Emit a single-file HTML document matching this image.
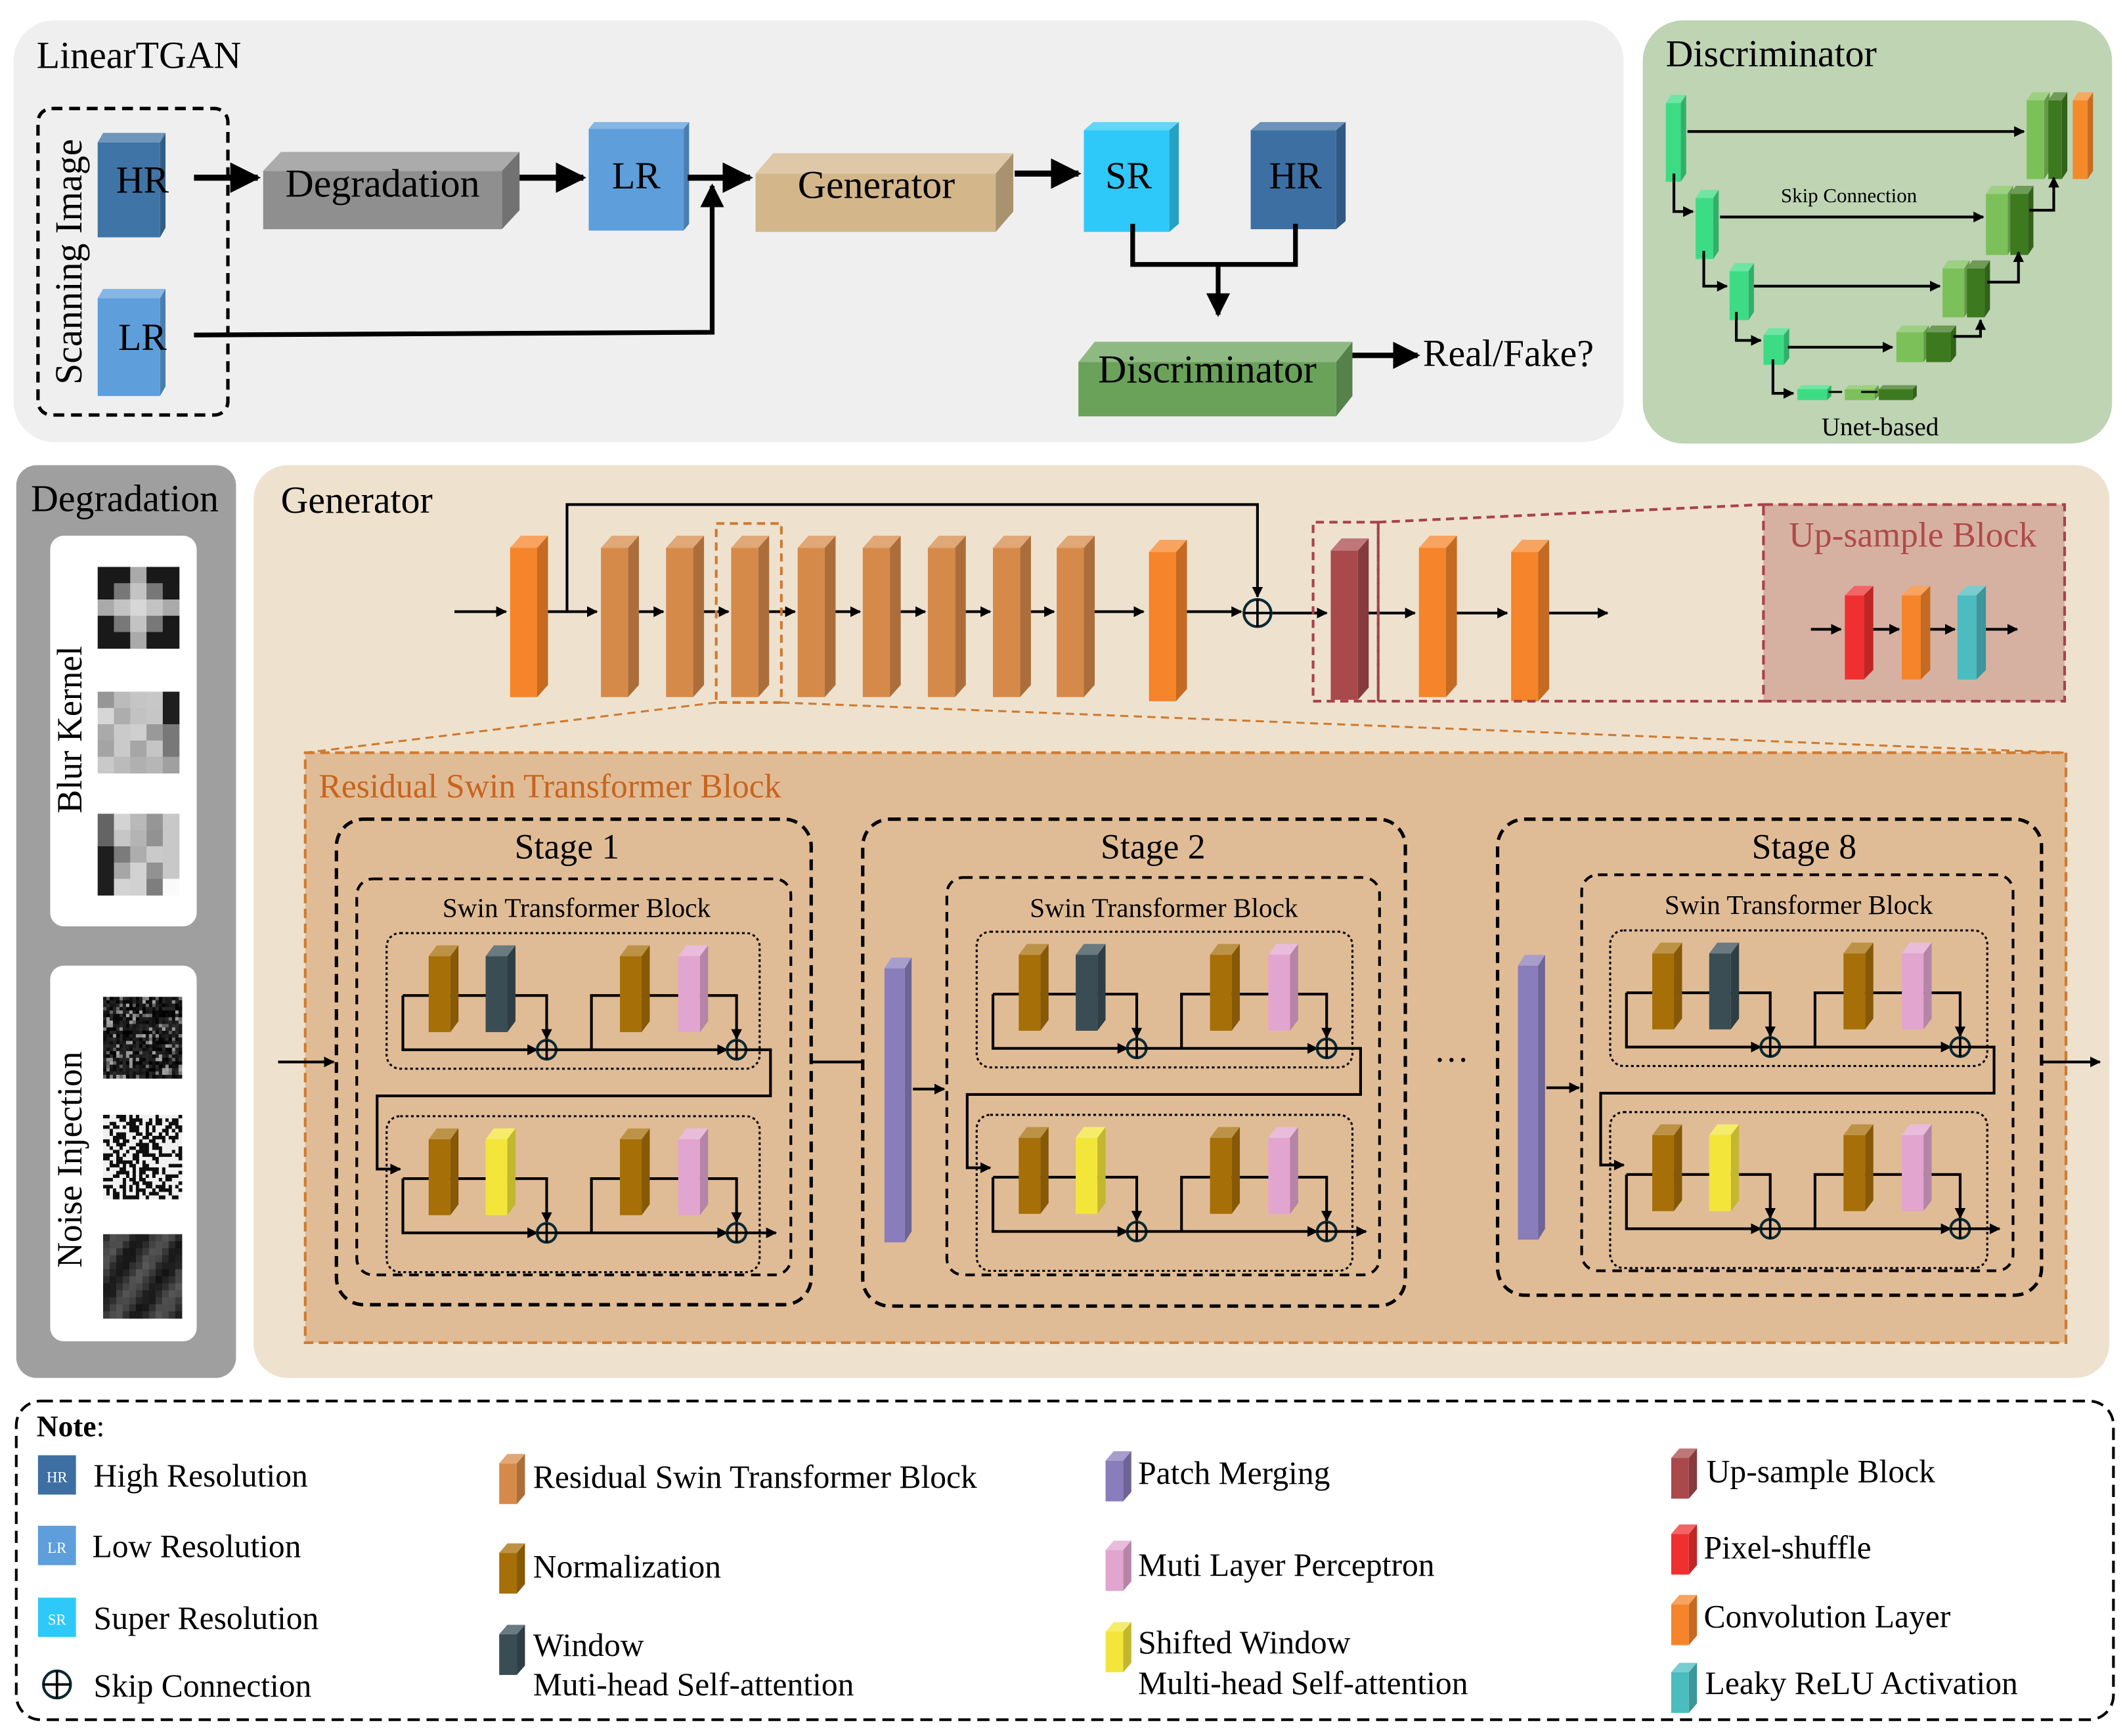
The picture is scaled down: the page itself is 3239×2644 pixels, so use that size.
<!DOCTYPE html>
<html><head><meta charset="utf-8">
<style>
html,body{margin:0;padding:0;background:#fff;}
svg{display:block;}
text{font-family:"Liberation Serif",serif;fill:#000;}
</style></head>
<body>
<svg id="s" xmlns="http://www.w3.org/2000/svg" width="3239" height="2644" viewBox="0 0 1568 1280" preserveAspectRatio="none">
<defs>
<marker id="a" viewBox="0 0 10 10" refX="9" refY="5" markerWidth="4" markerHeight="4" orient="auto"><path d="M0,0L10,5L0,10z" fill="#000"/></marker>
<marker id="b" viewBox="0 0 10 10" refX="9" refY="5" markerWidth="5" markerHeight="5" orient="auto"><path d="M0,0L10,5L0,10z" fill="#000"/></marker>
</defs>
<!-- panels -->
<rect x="10" y="15" width="1187" height="311" rx="30" fill="#efefef"/>
<rect x="1211" y="15" width="346" height="312" rx="30" fill="#bed4b3"/>
<rect x="12" y="343" width="162" height="673" rx="15" fill="#9f9f9f"/>
<rect x="187" y="343" width="1368" height="673" rx="25" fill="#eee2cf"/>
<rect x="12" y="1033" width="1546" height="235" rx="18" fill="#fff" stroke="#000" stroke-width="2" stroke-dasharray="9 5"/>

<text x="27" y="50" font-size="28">LinearTGAN</text>
<rect x="28" y="80" width="140" height="226" rx="10" fill="none" stroke="#000" stroke-width="2.5" stroke-dasharray="8 5"/>
<text transform="translate(60,193) rotate(-90)" font-size="28" text-anchor="middle">Scanning Image</text>

<g id="top"></g>
<text x="105" y="142" font-size="28" text-anchor="middle">HR</text>
<text x="105" y="258" font-size="28" text-anchor="middle">LR</text>
<text x="282" y="145" font-size="29" text-anchor="middle">Degradation</text>
<text x="469" y="139" font-size="28" text-anchor="middle">LR</text>
<text x="646" y="146" font-size="29" text-anchor="middle">Generator</text>
<text x="832" y="139" font-size="28" text-anchor="middle">SR</text>
<text x="955" y="139" font-size="28" text-anchor="middle">HR</text>
<text x="890" y="282" font-size="29" text-anchor="middle">Discriminator</text>
<text x="1049" y="270" font-size="28">Real/Fake?</text>

<text x="1228" y="49" font-size="28">Discriminator</text>
<text x="1363" y="149" font-size="15" text-anchor="middle">Skip Connection</text>
<text x="1386" y="321" font-size="19" text-anchor="middle">Unet-based</text>

<text x="92" y="377" font-size="28" text-anchor="middle">Degradation</text>
<rect x="37" y="395" width="108" height="288" rx="10" fill="#fff"/>
<rect x="37" y="712" width="108" height="277" rx="10" fill="#fff"/>
<text transform="translate(60,538) rotate(-90)" font-size="26" text-anchor="middle">Blur Kernel</text>
<text transform="translate(60,855) rotate(-90)" font-size="26" text-anchor="middle">Noise Injection</text>

<text x="207" y="378" font-size="28">Generator</text>
<rect x="225" y="555" width="1298" height="435" fill="#e0bc96" stroke="#d07a30" stroke-width="2" stroke-dasharray="7 4"/>
<text x="235" y="588" font-size="25" fill="#c8641e" style="fill:#c8641e">Residual Swin Transformer Block</text>
<rect x="1300" y="372" width="222" height="145" fill="#d6b1a2" stroke="#a8424a" stroke-width="2" stroke-dasharray="7 4"/>
<text x="1410" y="403" font-size="26" text-anchor="middle" style="fill:#b04a4a">Up-sample Block</text>

<text x="418" y="633" font-size="26" text-anchor="middle">Stage 1</text>
<text x="850" y="633" font-size="26" text-anchor="middle">Stage 2</text>
<text x="1330" y="633" font-size="26" text-anchor="middle">Stage 8</text>
<text x="425" y="676" font-size="20" text-anchor="middle">Swin Transformer Block</text>
<text x="858" y="676" font-size="20" text-anchor="middle">Swin Transformer Block</text>
<text x="1326" y="674" font-size="20" text-anchor="middle">Swin Transformer Block</text>
<text x="1070" y="790" font-size="26" text-anchor="middle">···</text>

<g id="dyn"></g>

<!-- legend text -->
<text x="27" y="1059" font-size="22" font-weight="bold">Note<tspan font-weight="normal">:</tspan></text>
<text x="69" y="1096" font-size="24">High Resolution</text>
<text x="68" y="1148" font-size="24">Low Resolution</text>
<text x="69" y="1201" font-size="24">Super Resolution</text>
<text x="69" y="1251" font-size="24">Skip Connection</text>
<text x="393" y="1097" font-size="24">Residual Swin Transformer Block</text>
<text x="393" y="1163" font-size="24">Normalization</text>
<text x="393" y="1221" font-size="24">Window</text>
<text x="393" y="1250" font-size="24">Muti-head Self-attention</text>
<text x="839" y="1094" font-size="24">Patch Merging</text>
<text x="839" y="1162" font-size="24">Muti Layer Perceptron</text>
<text x="839" y="1219" font-size="24">Shifted Window</text>
<text x="839" y="1249" font-size="24">Multi-head Self-attention</text>
<text x="1258" y="1093" font-size="24">Up-sample Block</text>
<text x="1256" y="1149" font-size="24">Pixel-shuffle</text>
<text x="1256" y="1200" font-size="24">Convolution Layer</text>
<text x="1257" y="1249" font-size="24">Leaky ReLU Activation</text>
<text x="42" y="1093" font-size="11" text-anchor="middle" style="fill:#fff">HR</text>
<text x="42" y="1145" font-size="11" text-anchor="middle" style="fill:#fff">LR</text>
<text x="42" y="1198" font-size="11" text-anchor="middle" style="fill:#fff">SR</text>
</svg>
<script>
(function(){
var NS="http://www.w3.org/2000/svg";
var top=document.getElementById("top"), dyn=document.getElementById("dyn");
function el(p,tag,at){var e=document.createElementNS(NS,tag);for(var k in at)e.setAttribute(k,at[k]);p.appendChild(e);return e;}
function shade(c,f){var n=parseInt(c.slice(1),16);var r=n>>16,g=(n>>8)&255,b=n&255;
 function m(v){return Math.max(0,Math.min(255,Math.round(f>1?v+(255-v)*(f-1):v*f)));}
 return "rgb("+m(r)+","+m(g)+","+m(b)+")";}
function box(p,x,y,w,h,d,c,dy){dy=dy||d;
 el(p,"polygon",{points:[x,y+dy,x+d,y,x+w+d,y,x+w,y+dy].join(" "),fill:shade(c,1.25)});
 el(p,"polygon",{points:[x+w,y+dy,x+w+d,y,x+w+d,y+h,x+w,y+h+dy].join(" "),fill:shade(c,0.8)});
 el(p,"rect",{x:x,y:y+dy,width:w,height:h,fill:c});}
function line(p,pts,arrow,sw,mk){var a={points:pts.join(" "),fill:"none",stroke:"#000","stroke-width":sw||2};
 if(arrow)a["marker-end"]="url(#"+(mk||"a")+")";el(p,"polyline",a);}
function plus(p,x,y,r){el(p,"circle",{cx:x,cy:y,r:r,fill:"none",stroke:"#0b2a33","stroke-width":2});
 line(p,[x-r,y,x+r,y],0,1.8);line(p,[x,y-r,x,y+r],0,1.8);}

// top panel
box(top,72,98,46,70,4,"#3f74a6",7);
box(top,72,213,46,72,4,"#5d9edb",7);
box(top,194,112,176,43,13,"#8f8f8f",14);
box(top,434,90,70,75,4,"#5d9edb",5);
box(top,557,113,177,43,13,"#d3b68a",15);
box(top,799,90,63,75,7,"#2ec9f8",6);
box(top,922,90,63,73,7,"#3d6fa3",6);
box(top,795,252,190,40,12,"#6aa25a",15);
line(top,[143,131,190,131],1,4.5,"b");
line(top,[383,131,430,131],1,4.5,"b");
line(top,[507,131,553,131],1,4.5,"b");
line(top,[143,247,525,245,525,137],1,3.5,"b");
line(top,[748,128,795,128],1,4.5,"b");
line(top,[835,165,835,195,955,195,955,165],0,3.5);
line(top,[898,195,898,232],1,3.5,"b");
line(top,[997,262,1045,262],1,4,"b");

// Unet
var lg="#3ddc84",mg="#7cc05a",dg="#3d7a1f";
box(top,1228,70,11,58,4,lg,6);
line(top,[1244,97,1492,97],1,2);
box(top,1494,68,13,58,4,mg,6);box(top,1510,68,10,58,4,dg,6);box(top,1528,68,11,58,4,"#f58a2b",6);
box(top,1250,140,13,45,4,lg,6);
line(top,[1234,128,1234,156,1248,156],1,2);
line(top,[1268,160,1462,160],1,2);
box(top,1464,137,16,45,4,mg,6);box(top,1482,137,13,45,4,dg,6);
line(top,[1496,155,1514,155,1514,131],1,2);
box(top,1275,194,14,36,4,lg,6);
line(top,[1256,185,1256,211,1273,211],1,2);
line(top,[1293,211,1430,211],1,2);
box(top,1432,192,16,36,4,mg,6);box(top,1450,192,13,36,4,dg,6);
line(top,[1465,208,1488,208,1488,186],1,2);
box(top,1300,242,15,22,4,lg,5);
line(top,[1280,230,1280,251,1298,251],1,2);
line(top,[1318,256,1395,256],1,2);
box(top,1398,240,20,22,4,mg,5);box(top,1420,240,18,22,4,dg,5);
line(top,[1440,248,1460,248,1460,236],1,2);
line(top,[1307,265,1307,290,1322,290],1,2);
box(top,1325,284,22,8,3,lg,3);box(top,1360,284,22,8,3,mg,3);box(top,1385,284,25,8,3,dg,3);
line(top,[1348,289,1358,289],0,1.5);line(top,[1372,289,1384,289],0,1.5);

// degradation images
var seed=7;function rnd(){seed=(seed*16807)%2147483647;return seed/2147483647;}
function img(x,y,w,h,n,fn){var cw=w/n,ch=h/n;for(var i=0;i<n;i++)for(var j=0;j<n;j++){var v=fn(i,j);
 el(dyn,"rect",{x:x+i*cw,y:y+j*ch,width:cw+0.3,height:ch+0.3,fill:"rgb("+v+","+v+","+v+")"});}}
img(72,418,60,60,5,function(i,j){var d=Math.abs(i-2)+Math.abs(j-2);if(d==0)return 215;if(d==1)return 195;if(d==2&&(i==2||j==2))return 170;if(d==2)return 120;return 25;});
img(72,510,60,60,5,function(i,j){if(i==4)return j<2?30:(j<4?120:160);return 150+Math.floor(rnd()*70);});
img(72,600,60,60,5,function(i,j){if(i==0)return j<2?100:30;if(i==4)return j>3?250:200;return 110+Math.floor(rnd()*110);});
img(76,735,58,60,24,function(){var v=rnd();return v>0.8?Math.floor(90+rnd()*80):Math.floor(rnd()*45);});
img(76,822,58,62,24,function(){return rnd()>0.5?240:15;});
img(76,910,58,62,12,function(i,j){return Math.floor(25+30*Math.sin(i*0.9+j*0.6)+rnd()*15)+20;});

// generator main row
var orng="#f5842a",tan="#d68a4a";
line(dyn,[335,451,373,451],1,2);
box(dyn,376,395,20,110,8,orng,9);
line(dyn,[404,451,440,451],1,2);
var xs=[443,491,539,588,636,684,732,779];
for(var i=0;i<xs.length;i++){box(dyn,xs[i],395,20,110,8,tan,9);
 var nx=(i<xs.length-1)?xs[i+1]:845;line(dyn,[xs[i]+28,451,nx-2,451],1,2);}
box(dyn,847,398,20,110,8,orng,9);
line(dyn,[875,451,915,451],1,2);
line(dyn,[418,451,418,372,927,372,927,440],1,2);
plus(dyn,927,452,10);
line(dyn,[938,452,978,452],1,2);
box(dyn,981,397,20,110,8,"#a9494c",9);
line(dyn,[1009,452,1043,452],1,2);
box(dyn,1046,395,20,110,8,orng,9);
line(dyn,[1074,452,1111,452],1,2);
box(dyn,1114,398,20,110,8,orng,9);
line(dyn,[1142,452,1185,452],1,2);
el(dyn,"rect",{x:528,y:386,width:48,height:132,fill:"none",stroke:"#d07a30","stroke-width":2,"stroke-dasharray":"6 4"});
line(dyn,[528,518,225,555],0,1.5);line(dyn,[576,518,1523,555],0,1.5);
dyn.lastChild.setAttribute("stroke","#d07a30");dyn.lastChild.setAttribute("stroke-dasharray","6 4");
dyn.lastChild.previousSibling.setAttribute("stroke","#d07a30");dyn.lastChild.previousSibling.setAttribute("stroke-dasharray","6 4");
el(dyn,"polyline",{points:"1016,385 968,385 968,517 1016,517 1016,385 1300,372 M",fill:"none",stroke:"#a8424a","stroke-width":2,"stroke-dasharray":"6 4"});
el(dyn,"polyline",{points:"1016,517 1300,517",fill:"none",stroke:"#a8424a","stroke-width":2,"stroke-dasharray":"6 4"});
el(dyn,"line",{x1:1016,y1:385,x2:1016,y2:517,stroke:"#a8424a","stroke-width":2,"stroke-dasharray":"6 4"});
line(dyn,[1335,464,1357,464],1,2);
box(dyn,1360,432,14,62,7,"#f03030",7);
line(dyn,[1381,464,1400,464],1,2);
box(dyn,1402,432,14,62,7,orng,7);
line(dyn,[1423,464,1441,464],1,2);
box(dyn,1443,432,14,62,7,"#4bbcc0",7);
line(dyn,[1464,464,1487,464],1,2);

// stages
function dashbox(x,y,w,h,r,da,sw){el(dyn,"rect",{x:x,y:y,width:w,height:h,rx:r,fill:"none",stroke:"#000","stroke-width":sw,"stroke-dasharray":da});}
function row(ox,oy,w,col2){var mid=oy+46,bot=oy+86;
 line(dyn,[ox+12,mid,ox+12,bot,ox+111,bot],1,2);
 line(dyn,[ox+12,mid,ox+118,mid,ox+118,bot-8],1,2);
 box(dyn,ox+31,oy+9,16,56,6,"#a66f08",8);
 box(dyn,ox+73,oy+9,16,56,6,col2,8);
 plus(dyn,ox+118,bot,7);
 line(dyn,[ox+125,bot,ox+251,bot],1,2);
 line(dyn,[ox+151,bot,ox+151,mid,ox+258,mid,ox+258,bot-8],1,2);
 box(dyn,ox+172,oy+9,16,56,6,"#a66f08",8);
 box(dyn,ox+215,oy+9,16,56,6,"#e2a5d0",8);
 plus(dyn,ox+258,bot,7);}
function stage(sx,sy,sw,sh,bx,by,bw,bh,ox,oy1,oy2,dw){
 dashbox(sx,sy,sw,sh,20,"8 5",2.5);dashbox(bx,by,bw,bh,12,"7 5",2);
 el(dyn,"rect",{x:ox,y:oy1,width:dw,height:100,rx:10,fill:"none",stroke:"#000","stroke-width":1.5,"stroke-dasharray":"2 2"});
 el(dyn,"rect",{x:ox,y:oy2,width:dw,height:115,rx:10,fill:"none",stroke:"#000","stroke-width":1.5,"stroke-dasharray":"2 2"});
 row(ox,oy1,dw,"#3a4d55");row(ox,oy2,dw,"#f3e53a");
 var r1=oy1+86;line(dyn,[ox+265,r1,ox+283,r1,ox+283,oy1+120,ox-7,oy1+120,ox-7,oy2+39,ox+10,oy2+39],1,2);
 var r2=oy2+86;line(dyn,[ox+265,r2,ox+287,r2],1,2);}
line(dyn,[205,783,246,783],1,2);
stage(248,604,350,358,263,648,320,292,285,688,823,275);
line(dyn,[598,783,636,783],0,2);
box(dyn,652,706,15,202,5,"#8a7dbb",8);
line(dyn,[673,803,696,803],1,2);
stage(636,604,400,359,698,647,319,293,720,687,822,277);
box(dyn,1119,704,15,202,5,"#8a7dbb",8);
line(dyn,[1140,802,1164,802],1,2);
stage(1104,604,401,351,1166,645,318,292,1187,686,820,278);
line(dyn,[1505,783,1548,783],1,2);

// legend icons
el(dyn,"rect",{x:28,y:1073,width:28,height:29,fill:"#3d6fa3"});
el(dyn,"rect",{x:28,y:1125,width:28,height:29,fill:"#5d9edb"});
el(dyn,"rect",{x:28,y:1178,width:28,height:29,fill:"#2ec9f8"});
plus(dyn,42,1242,10);
function li(x,y,c){box(dyn,x,y,13,30,6,c,7);}
li(368,1072,tan);li(368,1138,"#a66f08");li(368,1198,"#3a4d55");
li(815,1070,"#8a7dbb");li(815,1136,"#e2a5d0");li(815,1196,"#f3e53a");
li(1232,1068,"#a9494c");li(1232,1124,"#f03030");li(1232,1176,orng);li(1232,1226,"#4bbcc0");
})();
</script>
</body></html>
